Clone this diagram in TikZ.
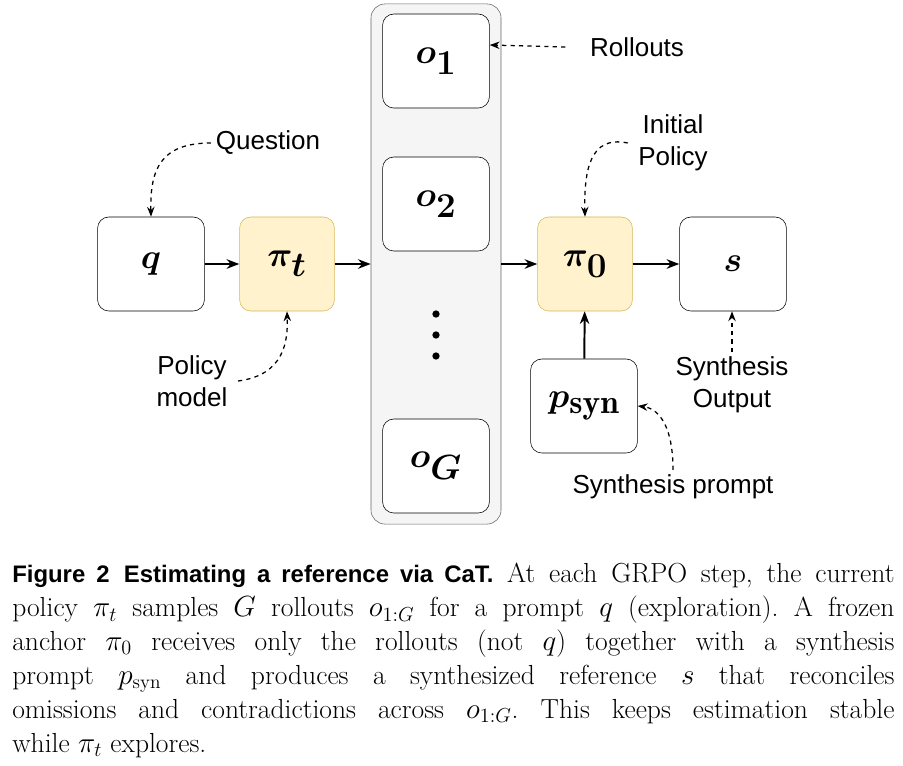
\documentclass[tikz,border=0pt]{standalone}
\usepackage{fontspec}
\usepackage{amsmath,bm}
\setsansfont{Liberation Sans}
\usetikzlibrary{arrows.meta}
\definecolor{boxyellow}{HTML}{FFF2CC}
\definecolor{lineyellow}{HTML}{D6B656}
\definecolor{panelgray}{HTML}{F5F5F5}
\tikzset{
  plainbox/.style={draw, rounded corners=8pt, fill=white, minimum width=2.67cm, minimum height=2.35cm, font=\fontsize{34}{36}\selectfont},
  policybox/.style={plainbox, fill=boxyellow, draw=lineyellow, minimum width=2.37cm},
  flow/.style={-{Stealth[length=9pt]}, line width=1.4pt},
  note/.style={-{Stealth[length=7pt]}, dashed, line width=0.9pt},
  lbl/.style={font=\fontsize{18.5}{22.5}\selectfont\sffamily, align=center}
}
\begin{document}
\begin{tikzpicture}[x=0.025cm, y=-0.025cm]
  \useasboundingbox (0,0) rectangle (903,765);

  % Rollout panel
  \node[draw=black!60, fill=panelgray, rounded corners=10pt, minimum width=3.25cm, minimum height=13cm] (panel) at (436,264) {};
  \node[plainbox] (o1) at (436,61) {$\bm{o_1}$};
  \node[plainbox] (o2) at (436,204) {$\bm{o_2}$};
  \foreach \dy in {314,335,356}
    \fill (436,\dy) circle (2.6pt);
  \node[plainbox] (oG) at (436,466) {$\bm{o_G}$};

  % Main nodes
  \node[plainbox] (q) at (151,264) {$\bm{q}$};
  \node[policybox] (pit) at (287,264) {$\bm{\pi_t}$};
  \node[policybox] (pi0) at (585,264) {$\bm{\pi_0}$};
  \node[plainbox] (s) at (733,264) {$\bm{s}$};
  \node[plainbox] (psyn) at (584,406) {$\bm{p_{\mathrm{syn}}}$};

  \draw[flow] (q) -- (pit);
  \draw[flow] (pit) -- (panel.west |- pit);
  \draw[flow] (panel.east |- pi0) -- (pi0);
  \draw[flow] (pi0) -- (s);
  \draw[flow] (psyn) -- (pi0);

  % Annotations
  \node[lbl] (question) at (268,143) {Question};
  \node[lbl] (policymodel) at (192,381) {Policy\\model};
  \node[lbl] (rollouts) at (637,47) {Rollouts};
  \node[lbl] (initial) at (673,143) {Initial\\Policy};
  \node[lbl] (synout) at (732,385) {Synthesis\\Output};
  \node[lbl] (synprompt) at (673,487) {Synthesis prompt};

  \draw[note] (question.west) .. controls (160,143) and (150,170) .. (q.north);
  \draw[note] ([xshift=4pt]policymodel.east) .. controls (285,375) and (288,340) .. (pit.south);
  \draw[note] ([xshift=-14pt]rollouts.west) -- (o1.east |- 0,45);
  \draw[note] ([xshift=-4pt]initial.west) .. controls (590,135) and (584,170) .. (pi0.north);
  \draw[note] (synout.north) -- (s.south -| synout.north);
  \draw[note] (synprompt.north) .. controls (673,420) and (655,408) .. (psyn.east);

  % Caption
  \node[anchor=north west, text width=22.05cm, align=justify, inner sep=0pt,
        font=\fontsize{19.6}{24.1}\selectfont\frenchspacing] (caption) at (12,563)
  {{\sffamily\bfseries\fontsize{17}{20}\selectfont Figure 2\hspace{0.6em}Estimating a reference via CaT.} At each GRPO step, the current\linebreak policy $\pi_t$ samples $G$ rollouts $o_{1:G}$ for a prompt $q$ (exploration). A frozen\linebreak anchor $\pi_0$ receives only the rollouts (not $q$) together with a synthesis\linebreak prompt $p_{\mathrm{syn}}$ and produces a synthesized reference $s$ that reconciles\linebreak omissions and contradictions across $o_{1:G}$. This keeps estimation stable\linebreak while $\pi_t$ explores.};
\end{tikzpicture}
\end{document}
